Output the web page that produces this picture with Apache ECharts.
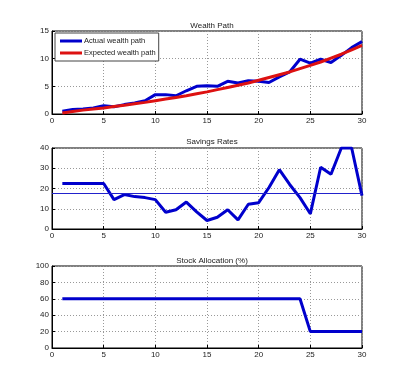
<!DOCTYPE html>
<html><head><meta charset="utf-8">
<script src="https://cdn.jsdelivr.net/npm/echarts@6/dist/echarts.min.js"></script>
<style>html,body{margin:0;padding:0;background:#fff}#c{width:400px;height:392px}</style>
</head><body><div id="c"></div>
<script>
const years = [1,2,3,4,5,6,7,8,9,10,11,12,13,14,15,16,17,18,19,20,21,22,23,24,25,26,27,28,29,30];
const actualWealth = [0.5,0.8,0.9,1.1,1.5,1.3,1.7,2.0,2.4,3.5,3.5,3.3,4.2,5.0,5.1,5.0,5.9,5.6,6.0,5.9,5.7,6.7,7.6,9.9,9.2,9.9,9.3,10.6,12.0,13.1];
const expectedWealth = [0.2,0.45,0.7,0.9,1.1,1.35,1.6,1.85,2.1,2.4,2.7,3.0,3.3,3.65,4.0,4.4,4.8,5.2,5.6,6.1,6.6,7.1,7.6,8.2,8.8,9.4,10.1,10.8,11.6,12.4];
const savingsRates = [22.5,22.5,22.5,22.5,22.5,14.5,17,16,15.5,14.5,8.3,9.5,13.3,8.5,4.2,5.8,9.5,4.5,12.2,13,20.5,29.3,22,15.5,7.5,30.5,27,40,40,16.5];
const savingsAvg = 17.5;
const stockAlloc = [60,60,60,60,60,60,60,60,60,60,60,60,60,60,60,60,60,60,60,60,60,60,60,60,20,20,20,20,20,20];
const xTicks = [0,30,5];
const titles = ['Wealth Path','Savings Rates','Stock Allocation (%)'];
const legendNames = ['Actual wealth path','Expected wealth path'];

const FONT = 'Liberation Sans, Arial, sans-serif';
const BLUE = '#0000cc', RED = '#dd1111';
const grids = [
  {left:52, width:310, top:31, height:83},
  {left:52, width:310, top:148, height:81},
  {left:52, width:310, top:266, height:82}
];
const yAx = [{min:0,max:15,interval:5},{min:0,max:40,interval:10},{min:0,max:100,interval:20}];
const pair = arr => years.map((y,i)=>[y,arr[i]]);
const gridLine = {show:true, lineStyle:{color:'#999', type:[1,2], width:1}};
const option = {
  animation:false,
  backgroundColor:'#fff',
  textStyle:{fontFamily:FONT},
  title: titles.map((t,i)=>({text:t, left:207, textAlign:'center', top:[17,133,252][i],
    textStyle:{fontSize:8, fontWeight:'normal', color:'#222', fontFamily:FONT}})),
  grid: grids.map(g=>Object.assign({show:true, borderColor:'#000', borderWidth:1, backgroundColor:'#fff'}, g)),
  xAxis: grids.map((g,i)=>({type:'value', gridIndex:i, min:xTicks[0], max:xTicks[1], interval:xTicks[2],
    axisLine:{show:true, lineStyle:{color:'#000'}}, axisTick:{inside:true, length:3, lineStyle:{color:'#000'}},
    axisLabel:{fontSize:8, color:'#222', margin:3, fontFamily:FONT}, splitLine:gridLine})),
  yAxis: yAx.map((a,i)=>({type:'value', gridIndex:i, min:a.min, max:a.max, interval:a.interval,
    axisLine:{show:true, lineStyle:{color:'#000'}}, axisTick:{show:true, inside:true, length:3, lineStyle:{color:'#000'}},
    axisLabel:{fontSize:8, color:'#222', margin:3, fontFamily:FONT}, splitLine:gridLine})),
  legend: {data:legendNames, orient:'vertical', left:55, top:33, itemWidth:22, itemHeight:3, itemGap:4,
    padding:[4,3,4,5], borderColor:'#444', borderWidth:1, backgroundColor:'#fff',
    textStyle:{fontSize:7.5, color:'#222', fontFamily:FONT, padding:[0,0,0,-3]}, icon:'rect'},
  series: [
    {name:legendNames[0], type:'line', xAxisIndex:0, yAxisIndex:0, data:pair(actualWealth), showSymbol:false, lineStyle:{color:BLUE, width:3}, itemStyle:{color:BLUE}},
    {name:legendNames[1], type:'line', xAxisIndex:0, yAxisIndex:0, data:pair(expectedWealth), showSymbol:false, lineStyle:{color:RED, width:3}, itemStyle:{color:RED}},
    {name:'Savings', type:'line', xAxisIndex:1, yAxisIndex:1, data:pair(savingsRates), showSymbol:false, lineStyle:{color:BLUE, width:3}, itemStyle:{color:BLUE},
      markLine:{silent:true, symbol:'none', label:{show:false}, lineStyle:{color:'#2222cc', width:1, type:'solid'}, data:[{yAxis:savingsAvg}]}},
    {name:'Stock', type:'line', xAxisIndex:2, yAxisIndex:2, data:pair(stockAlloc), showSymbol:false, lineStyle:{color:BLUE, width:3}, itemStyle:{color:BLUE}}
  ]
};
echarts.init(document.getElementById('c'), null, {renderer:'canvas'}).setOption(option);
</script></body></html>
